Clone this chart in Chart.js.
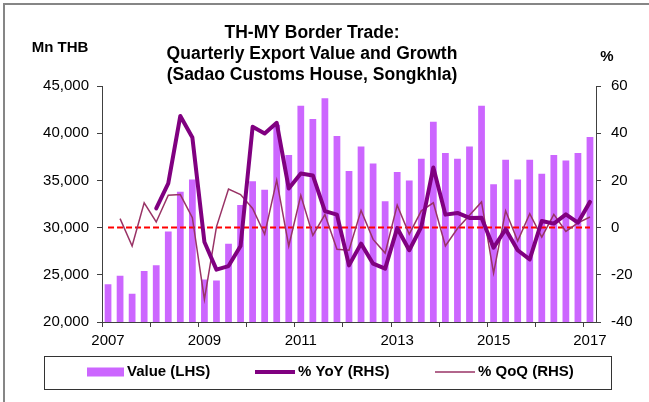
<!DOCTYPE html>
<html>
<head>
<meta charset="utf-8">
<title>TH-MY Border Trade</title>
<script src="https://cdn.jsdelivr.net/npm/chart.js@4.4.1/dist/chart.umd.min.js"></script>
<style>
  html, body { margin: 0; padding: 0; background: #fff; }
  #wrap { width: 649px; height: 402px; }
</style>
</head>
<body>
<div id="wrap"><canvas id="borderTrade" width="649" height="402"></canvas></div>
<script>
// quarterly series, 2007Q1 - 2017Q1
var quarters = [
  '2007Q1','2007Q2','2007Q3','2007Q4','2008Q1','2008Q2','2008Q3','2008Q4',
  '2009Q1','2009Q2','2009Q3','2009Q4','2010Q1','2010Q2','2010Q3','2010Q4',
  '2011Q1','2011Q2','2011Q3','2011Q4','2012Q1','2012Q2','2012Q3','2012Q4',
  '2013Q1','2013Q2','2013Q3','2013Q4','2014Q1','2014Q2','2014Q3','2014Q4',
  '2015Q1','2015Q2','2015Q3','2015Q4','2016Q1','2016Q2','2016Q3','2016Q4',
  '2017Q1'
];

// export value, Mn THB (LHS)
var exportValue = [
  24000, 24900, 23000, 25400, 26000, 29600, 33800, 35100,
  24500, 24400, 28300, 32400, 34900, 34000, 40900, 37700,
  42900, 41500, 43700, 39700, 36000, 38600, 36800, 32800,
  35900, 35000, 37300, 41200, 37900, 37300, 38600, 42900,
  34600, 37200, 35100, 37200, 35700, 37700, 37100, 37900,
  39600
];

// growth, % (RHS)
var yoyGrowth = [
  null, null, null, null, 8.1, 18.7, 47.3, 38.2,
  -6.1, -17.8, -16.3, -7.8, 42.7, 39.9, 44.4, 16.6,
  22.9, 22.1, 7.0, 5.5, -16.0, -6.8, -15.3, -17.4,
  -0.2, -9.6, 0.3, 25.5, 5.5, 6.2, 4.1, 4.2,
  -8.5, -0.7, -9.6, -13.5, 2.8, 1.7, 5.6, 2.1,
  10.9
];
var qoqGrowth = [
  null, 3.8, -7.8, 10.5, 2.4, 13.7, 14.0, 4.2,
  -30.4, 0.3, 16.3, 14.0, 8.1, -2.8, 20.1, -7.8,
  13.7, -3.3, 5.5, -9.2, -9.6, 7.3, -5.0, -10.8,
  9.5, -2.8, 7.1, 10.5, -7.8, -0.4, 5.2, 10.9,
  -19.3, 7.1, -5.7, 5.9, -4.0, 5.6, -1.6, 2.0,
  4.5
];

var yearLabels = ['2007', '2009', '2011', '2013', '2015', '2017'];
var titleLines = ['TH-MY Border Trade:', 'Quarterly Export Value and Growth', '(Sadao Customs House, Songkhla)'];
var seriesNames = ['Value (LHS)', '% YoY (RHS)', '% QoQ (RHS)'];

var FONT = '"Liberation Sans", Arial, Helvetica, sans-serif';
Chart.defaults.font.family = FONT;
Chart.defaults.color = '#000';

// each quarter sits in the middle of its slot on a linear axis
function toPoints(arr) {
  return arr.map(function (v, i) { return { x: i + 0.5, y: v }; });
}

var decorPlugin = {
  id: 'decor',
  beforeDraw: function (chart) {
    var c = chart.ctx;
    c.save();
    c.fillStyle = '#fff';
    c.fillRect(0, 0, chart.width, chart.height);
    c.strokeStyle = '#868686';
    c.lineWidth = 2;
    c.beginPath();
    c.moveTo(4, chart.height);
    c.lineTo(4, 4);
    c.lineTo(chart.width, 4);
    c.stroke();
    c.restore();
  },
  afterDraw: function (chart) {
    var c = chart.ctx;
    var ds = chart.data.datasets;
    c.save();
    c.fillStyle = '#000';
    c.textBaseline = 'middle';

    // title
    c.font = 'bold 17.5px ' + FONT;
    c.textAlign = 'center';
    titleLines.forEach(function (t, i) {
      c.fillText(t, 312, 33 + i * 21);
    });

    // axis units
    c.font = 'bold 15px ' + FONT;
    c.fillText('Mn THB', 60, 48);
    c.fillText('%', 607, 57);

    // legend
    c.strokeStyle = '#333';
    c.lineWidth = 1;
    c.strokeRect(44.5, 356.5, 567, 33);

    var ly = 372;
    c.fillStyle = ds[0].backgroundColor;
    c.fillRect(87, ly - 4.5, 37, 9);

    c.lineCap = 'butt';
    c.strokeStyle = ds[1].borderColor;
    c.lineWidth = ds[1].borderWidth;
    c.beginPath(); c.moveTo(255, ly); c.lineTo(295, ly); c.stroke();

    c.strokeStyle = ds[2].borderColor;
    c.lineWidth = ds[2].borderWidth;
    c.beginPath(); c.moveTo(435, ly); c.lineTo(475, ly); c.stroke();

    c.fillStyle = '#000';
    c.textAlign = 'left';
    c.fillText(seriesNames[0], 127, ly);
    c.fillText(seriesNames[1], 298, ly);
    c.fillText(seriesNames[2], 478, ly);
    c.restore();
  }
};

var axisColor = '#404040';

new Chart(document.getElementById('borderTrade').getContext('2d'), {
  type: 'bar',
  data: {
    datasets: [{
      type: 'bar',
      label: seriesNames[0],
      data: toPoints(exportValue),
      backgroundColor: '#CC66FF',
      borderWidth: 0,
      barPercentage: 0.56,
      categoryPercentage: 1,
      yAxisID: 'y',
      order: 4
    }, {
      type: 'line',
      label: seriesNames[1],
      data: toPoints(yoyGrowth),
      borderColor: '#800080',
      borderWidth: 4,
      borderJoinStyle: 'round',
      borderCapStyle: 'round',
      pointRadius: 0,
      tension: 0,
      yAxisID: 'y1',
      order: 1
    }, {
      type: 'line',
      label: seriesNames[2],
      data: toPoints(qoqGrowth),
      borderColor: '#993366',
      borderWidth: 1.5,
      pointRadius: 0,
      tension: 0,
      yAxisID: 'y1',
      order: 2
    }, {
      // zero growth reference
      type: 'line',
      label: 'zero',
      data: [{ x: 0.5, y: 0 }, { x: quarters.length - 0.5, y: 0 }],
      borderColor: '#FF0000',
      borderWidth: 2,
      borderDash: [6, 3],
      pointRadius: 0,
      yAxisID: 'y1',
      order: 3
    }]
  },
  options: {
    responsive: false,
    animation: false,
    layout: { padding: { top: 86, left: 0, right: 0, bottom: 0 } },
    plugins: {
      legend: { display: false },
      title: { display: false },
      tooltip: { enabled: false }
    },
    scales: {
      x: {
        type: 'linear',
        min: 0,
        max: quarters.length,
        offset: false,
        afterFit: function (s) { s.height = 80; },
        grid: { offset: false, drawOnChartArea: false, drawTicks: true, tickLength: 5, color: axisColor },
        border: { color: axisColor, width: 1 },
        ticks: {
          stepSize: 4,
          includeBounds: false,
          autoSkip: false,
          maxRotation: 0,
          padding: 5,
          // year label sits over its first quarter, half a slot right of the tick
          labelOffset: 6,
          font: { size: 15 },
          callback: function (v) { return v % 8 === 0 ? yearLabels[v / 8] : ''; }
        }
      },
      y: {
        position: 'left',
        min: 20000,
        max: 45000,
        afterFit: function (s) { s.width = 102; },
        grid: { drawOnChartArea: false, tickLength: 5, color: axisColor },
        border: { color: axisColor, width: 1 },
        ticks: {
          stepSize: 5000,
          padding: 8,
          font: { size: 15 },
          callback: function (v) { return v.toLocaleString('en-US'); }
        }
      },
      y1: {
        position: 'right',
        min: -40,
        max: 60,
        afterFit: function (s) { s.width = 53; },
        grid: { drawOnChartArea: false, tickLength: 5, color: axisColor },
        border: { color: axisColor, width: 1 },
        ticks: {
          stepSize: 20,
          padding: 10,
          font: { size: 15 }
        }
      }
    }
  },
  plugins: [decorPlugin]
});
</script>
</body>
</html>
